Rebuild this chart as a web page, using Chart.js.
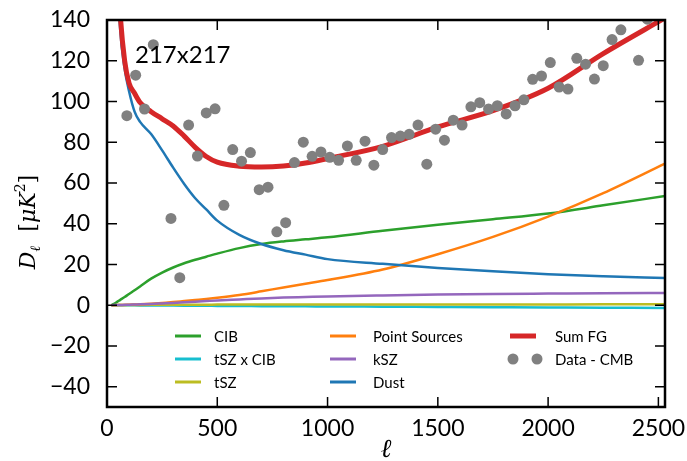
<!DOCTYPE html>
<html>
<head>
<meta charset="utf-8">
<script src="https://cdn.jsdelivr.net/npm/chart.js@4.4.1/dist/chart.umd.min.js"></script>
<style>
  html, body { margin: 0; padding: 0; background: #fff; }
</style>
</head>
<body>
<canvas id="chart" width="687" height="461"></canvas>
<script>
//----------------------------------DATA-----------------------------------------------------------

const ELL_MODEL = [20, 40, 60, 80, 100, 125, 150, 200, 250, 300, 350, 400, 450, 500, 600, 700, 800, 900, 1000, 1250, 1500, 1750, 2000, 2250, 2530]

const CIB       = [0, 1.2, 2.6, 4, 5.5, 7.3, 9.2, 13, 16, 18.5, 20.6, 22.3, 23.8, 25.3, 28, 30, 31.3, 32.3, 33.3, 36.5, 39.5, 42.2, 45, 49, 53.6]
const TSZ_CIB   = [0, -0.02, -0.04, -0.06, -0.08, -0.1, -0.12, -0.15, -0.18, -0.22, -0.26, -0.3, -0.33, -0.37, -0.43, -0.48, -0.53, -0.58, -0.62, -0.75, -0.88, -1.0, -1.13, -1.26, -1.4]
const TSZ       = [0, 0.02, 0.04, 0.06, 0.08, 0.1, 0.12, 0.15, 0.18, 0.2, 0.22, 0.24, 0.25, 0.27, 0.29, 0.3, 0.31, 0.32, 0.33, 0.35, 0.36, 0.37, 0.38, 0.39, 0.4]
const POINT_SRC = [0, 0, 0.05, 0.1, 0.2, 0.3, 0.4, 0.7, 1.1, 1.5, 2, 2.5, 3, 3.6, 5, 6.8, 8.7, 10.5, 12.3, 17.5, 25, 33.5, 43.5, 55, 69.5]
const KSZ       = [0, 0.05, 0.1, 0.15, 0.2, 0.3, 0.4, 0.6, 0.85, 1.1, 1.4, 1.7, 2, 2.3, 2.8, 3.3, 3.7, 4, 4.3, 4.8, 5.2, 5.5, 5.7, 5.9, 6]
const DUST      = [300, 180, 135, 116, 105, 95, 90, 84, 76, 67.5, 59.5, 52.5, 47, 41.5, 34.5, 30, 27, 24.8, 22.6, 20.3, 18.3, 16.6, 15.2, 14.2, 13.3]
const SUM_FG    = [300, 190, 143, 120, 109, 104, 99.5, 95, 91.5, 88, 83, 77.5, 73, 70.2, 68.2, 67.8, 68.3, 69.8, 72, 78, 87.5, 95.5, 106.5, 123.5, 141]

const ELL_DATA = [90, 130, 170, 210, 290, 330, 370, 410, 450, 490, 530, 570, 610, 650, 690, 730, 770, 810, 850, 890,
                  930, 970, 1010, 1050, 1090, 1130, 1170, 1210, 1250, 1290, 1330, 1370, 1410, 1450, 1490, 1530, 1570, 1610, 1650, 1690,
                  1730, 1770, 1810, 1850, 1890, 1930, 1970, 2010, 2050, 2090, 2130, 2170, 2210, 2250, 2290, 2330, 2410, 2450]
const DATA_CMB = [93.0, 112.9, 96.3, 127.9, 42.6, 13.5, 88.4, 73.2, 94.4, 96.4, 49.0, 76.4, 70.7, 74.9, 56.7, 57.9, 36.0, 40.5, 70.0, 80.0,
                  73.1, 75.2, 72.6, 71.1, 78.2, 71.1, 80.5, 68.7, 76.4, 82.3, 83.0, 83.9, 88.4, 69.2, 86.4, 81.0, 90.8, 88.4, 97.4, 99.4,
                  96.3, 97.9, 93.9, 97.9, 100.8, 110.9, 112.5, 119.1, 107.1, 106.1, 121.2, 118.3, 111.0, 117.6, 130.4, 135.2, 120.2, 140.4]

const X_TICKS = [0, 500, 1000, 1500, 2000, 2500]
const Y_TICKS = [-40, -20, 0, 20, 40, 60, 80, 100, 120, 140]
const ANNOTATION = '217x217'

//----------------------------------BUILD DATASETS-------------------------------------------------------

function toPoints(xs, ys){
    return xs.map((v, i) => ({x: v, y: ys[i]}))
}

function curve(label, values, color, width, order){
    return {
        label: label,
        data: toPoints(ELL_MODEL, values),
        borderColor: color,
        backgroundColor: color,
        borderWidth: width,
        pointRadius: 0,
        cubicInterpolationMode: 'monotone',
        order: order,
    }
}

const datasets = [
    curve('CIB', CIB, '#2ca02c', 2.5, 8),
    curve('tSZ x CIB', TSZ_CIB, '#17becf', 2.5, 7),
    curve('tSZ', TSZ, '#bcbd22', 2.5, 6),
    curve('Point Sources', POINT_SRC, '#ff7f0e', 2.5, 5),
    curve('kSZ', KSZ, '#9467bd', 2.5, 4),
    curve('Dust', DUST, '#1f77b4', 2.5, 3),
    curve('Sum FG', SUM_FG, '#d62728', 5, 2),
    {
        label: 'Data - CMB',
        data: toPoints(ELL_DATA, DATA_CMB),
        showLine: false,
        pointRadius: 5.5,
        pointBorderWidth: 0,
        backgroundColor: '#808080',
        borderColor: '#808080',
        order: 1,
    },
]

//----------------------------------PLUGINS-----------------------------------------------------------

// legend in 3 columns: [dataset index, column, row]
const LEGEND_LAYOUT = [[0,0,0],[1,0,1],[2,0,2],[3,1,0],[4,1,1],[5,1,2],[6,2,0],[7,2,1]]
const framePlugin = {
    id: 'frame',
    afterDatasetsDraw(chart){
        const {ctx, chartArea: a, scales: {x, y}} = chart
        ctx.save()

        // ticks pointing inwards on all four sides
        ctx.strokeStyle = '#000'
        ctx.lineWidth = 1.5
        ctx.beginPath()
        X_TICKS.forEach(v => {
            const px = x.getPixelForValue(v)
            ctx.moveTo(px, a.bottom); ctx.lineTo(px, a.bottom - 10)
            ctx.moveTo(px, a.top); ctx.lineTo(px, a.top + 10)
        })
        Y_TICKS.forEach(v => {
            const py = y.getPixelForValue(v)
            ctx.moveTo(a.left, py); ctx.lineTo(a.left + 10, py)
            ctx.moveTo(a.right, py); ctx.lineTo(a.right - 10, py)
        })
        ctx.stroke()
        ctx.lineWidth = 2.5
        ctx.strokeRect(a.left, a.top, a.right - a.left, a.bottom - a.top)

        // annotation
        ctx.fillStyle = '#000'
        ctx.font = '24px Lato'
        ctx.textBaseline = 'alphabetic'
        ctx.textAlign = 'left'
        ctx.fillText(ANNOTATION, a.left + 28, a.top + 43)

        // legend
        const colLine = [68, 223, 403]
        const colText = [107, 266, 448]
        const rowY = [316, 339, 362]
        ctx.font = '15px Lato'
        ctx.textBaseline = 'middle'
        LEGEND_LAYOUT.forEach(([i, c, r]) => {
            const ds = chart.data.datasets[i]
            const lx = a.left + colLine[c]
            const ly = a.top + rowY[r]
            if(ds.showLine === false){
                ctx.fillStyle = ds.backgroundColor
                ;[lx + 3, lx + 27].forEach(cx => {
                    ctx.beginPath(); ctx.arc(cx, ly, 5.5, 0, Math.PI * 2); ctx.fill()
                })
            } else {
                ctx.strokeStyle = ds.borderColor
                ctx.lineWidth = ds.borderWidth === 5 ? 5 : 3
                ctx.beginPath(); ctx.moveTo(lx, ly); ctx.lineTo(lx + 26, ly); ctx.stroke()
            }
            ctx.fillStyle = '#000'
            ctx.fillText(ds.label, a.left + colText[c], ly + 1)
        })
        ctx.restore()
    },
    afterDraw(chart){
        const {ctx, chartArea: a} = chart
        ctx.save()
        ctx.fillStyle = '#000'
        ctx.textBaseline = 'alphabetic'

        // x title
        ctx.font = 'italic 26px "DejaVu Serif"'
        ctx.textAlign = 'center'
        ctx.fillText('ℓ', (a.left + a.right) / 2, 457)

        // y title, built from pieces for sub/superscript
        const parts = [
            {t: 'D', f: 'italic 22px "DejaVu Serif"', dy: 0},
            {t: 'ℓ', f: 'italic 14px "DejaVu Serif"', dy: 5},
            {t: '  [', f: '22px "DejaVu Serif"', dy: 0},
            {t: 'μK', f: 'italic 22px "DejaVu Serif"', dy: 0},
            {t: '2', f: '14px "DejaVu Serif"', dy: -10},
            {t: ']', f: '22px "DejaVu Serif"', dy: 0},
        ]
        let total = 0
        parts.forEach(p => { ctx.font = p.f; p.w = ctx.measureText(p.t).width; total += p.w })
        ctx.translate(35, 222)
        ctx.rotate(-Math.PI / 2)
        ctx.textAlign = 'left'
        let cx = -total / 2
        parts.forEach(p => { ctx.font = p.f; ctx.fillText(p.t, cx, p.dy); cx += p.w })
        ctx.restore()
    }
}

//----------------------------------CHART-----------------------------------------------------------

const tickFont = {family: 'Lato', size: 23}
const plainLabel = (v) => String(v).replace('-', '\u2212')

new Chart(document.getElementById('chart'), {
    type: 'line',
    data: {datasets: datasets},
    options: {
        responsive: false,
        animation: false,
        devicePixelRatio: 1,
        layout: {padding: {left: 0, right: 22, top: 20, bottom: 0}},
        plugins: {legend: {display: false}, tooltip: {enabled: false}},
        scales: {
            x: {
                type: 'linear',
                min: 0,
                max: 2530,
                grid: {display: false, drawTicks: false},
                border: {display: false},
                ticks: {color: '#000', font: tickFont, padding: 8, maxRotation: 0, callback: plainLabel},
                afterBuildTicks: (s) => { s.ticks = X_TICKS.map(v => ({value: v})) },
                afterFit: (s) => { s.height = 54; s.paddingLeft = 0; s.paddingRight = 0 },
            },
            y: {
                type: 'linear',
                min: -50,
                max: 140,
                grid: {display: false, drawTicks: false},
                border: {display: false},
                ticks: {color: '#000', font: tickFont, padding: 17, callback: plainLabel},
                afterBuildTicks: (s) => { s.ticks = Y_TICKS.map(v => ({value: v})) },
                afterFit: (s) => { s.width = 107; s.paddingTop = 0; s.paddingBottom = 0 },
            },
        },
    },
    plugins: [framePlugin],
})
</script>
</body>
</html>
